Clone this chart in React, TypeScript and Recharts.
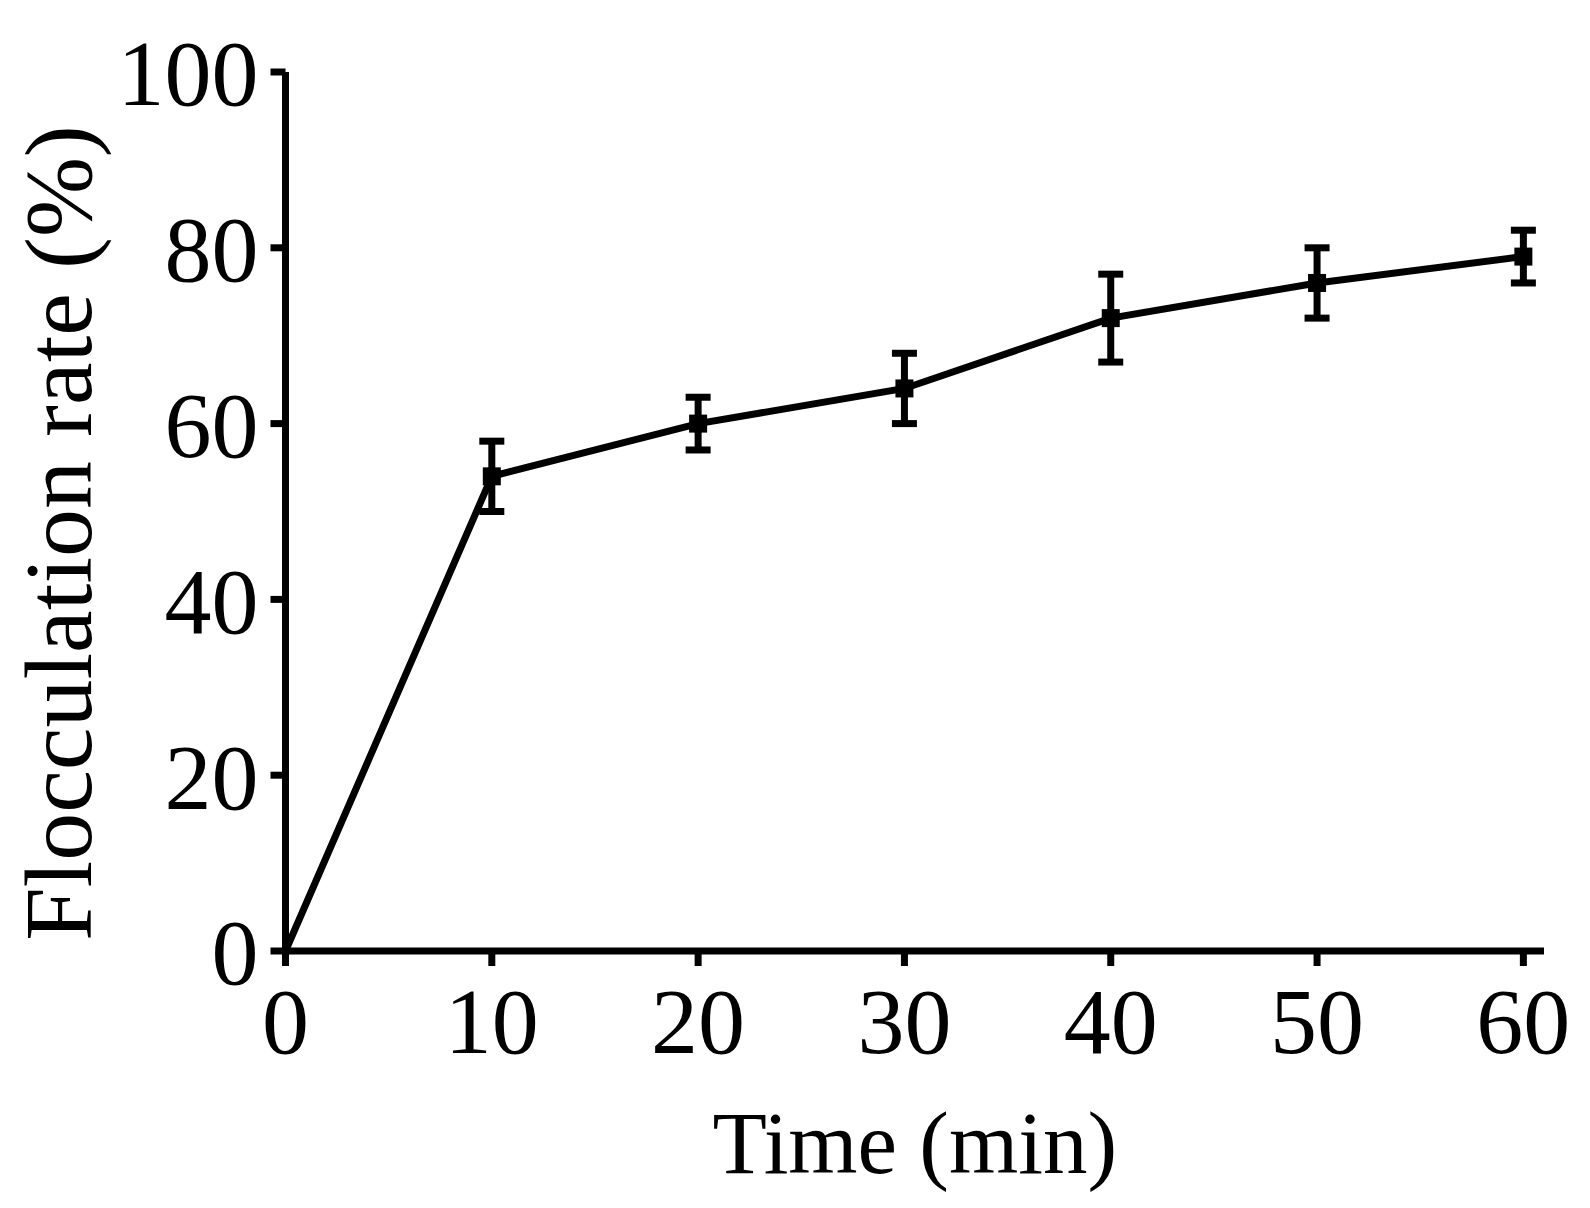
import { LineChart, Line, XAxis, YAxis, ErrorBar } from 'recharts';

const times = [0, 10, 20, 30, 40, 50, 60];
const rates = [0, 54, 60, 64, 72, 76, 79];
const errors = [0, 4, 3, 4, 5, 4, 3];
const xTicks = [0, 10, 20, 30, 40, 50, 60];
const yTicks = [0, 20, 40, 60, 80, 100];

const data = times.map((t, i) => ({ time: t, rate: rates[i], err: errors[i] }));

const font = '"Liberation Serif", "Times New Roman", serif';
const axisStroke = { stroke: '#000', strokeWidth: 7 };

const Square = (props: any) => {
  const { cx, cy, index } = props;
  if (index === 0 || cx == null || cy == null) return <g key={`d${index}`} />;
  return <rect key={`d${index}`} x={cx - 9} y={cy - 9} width={18} height={18} fill="#000" />;
};

export default function App() {
  return (
    <div style={{ position: 'absolute', left: 0, top: 0, width: 1590, height: 1208, background: '#fff' }}>
      <LineChart width={1590} height={1208} data={data} margin={{ top: 72, right: 46, bottom: 0, left: 0 }}>
        <XAxis
          dataKey="time"
          type="number"
          domain={[0, 61]}
          ticks={xTicks}
          height={257}
          axisLine={axisStroke}
          tickLine={axisStroke}
          tickSize={15}
          tickMargin={20}
          tick={{ fill: '#000', fontSize: 94, fontFamily: font }}
          label={{
            content: (p: any) => (
              <text x={p.viewBox.x + p.viewBox.width / 2} y={1173} textAnchor="middle" fontSize={89} fontFamily={font} fill="#000">
                Time (min)
              </text>
            ),
          }}
        />
        <YAxis
          type="number"
          domain={[0, 100]}
          ticks={yTicks}
          width={285.5}
          axisLine={axisStroke}
          tickLine={axisStroke}
          tickSize={15}
          tickMargin={12}
          tick={{ fill: '#000', fontSize: 94, fontFamily: font }}
          label={{
            content: () => (
              <text x={91} y={533} transform="rotate(-90, 91, 533)" textAnchor="middle" fontSize={96} fontFamily={font} fill="#000">
                Flocculation rate (%)
              </text>
            ),
          }}
        />
        <Line
          dataKey="rate"
          stroke="#000"
          strokeWidth={7}
          dot={Square}
          activeDot={false}
          isAnimationActive={false}
        >
          <ErrorBar dataKey="err" direction="y" width={12.5} stroke="#000" strokeWidth={7} isAnimationActive={false} />
        </Line>
      </LineChart>
    </div>
  );
}
